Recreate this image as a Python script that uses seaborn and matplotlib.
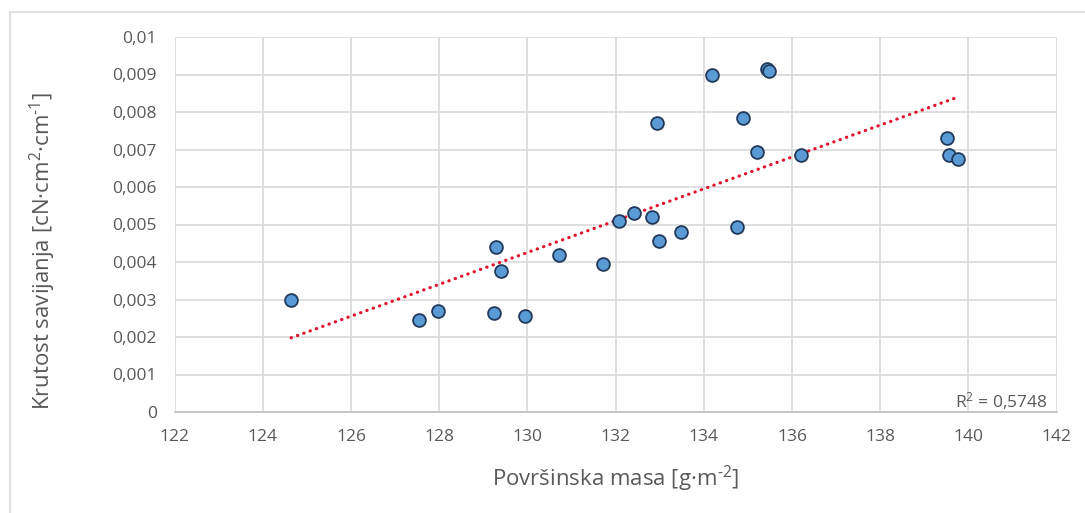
import numpy as np
import pandas as pd
import matplotlib
matplotlib.use("Agg")
import matplotlib.pyplot as plt
from matplotlib.lines import Line2D
import seaborn as sns

# data
povrsinska_masa = [124.64, 127.55, 127.97, 129.28, 129.40, 129.24, 129.95, 130.71,
                   131.72, 132.08, 132.41, 132.83, 132.93, 132.99, 133.47, 134.18,
                   134.75, 134.88, 135.20, 135.44, 135.48, 136.21, 139.51, 139.56,
                   139.76]
krutost = [0.00300, 0.00245, 0.00270, 0.00440, 0.00375, 0.00265, 0.00256, 0.00420,
           0.00395, 0.00510, 0.00531, 0.00519, 0.00770, 0.00456, 0.00480, 0.00899,
           0.00494, 0.00783, 0.00693, 0.00914, 0.00909, 0.00685, 0.00730, 0.00685,
           0.00674]
x_ticks = [122, 124, 126, 128, 130, 132, 134, 136, 138, 140, 142]
y_ticks = [0, 0.001, 0.002, 0.003, 0.004, 0.005, 0.006, 0.007, 0.008, 0.009, 0.01]
y_tick_labels = ["0", "0,001", "0,002", "0,003", "0,004", "0,005", "0,006",
                 "0,007", "0,008", "0,009", "0,01"]
r2_text = "R$^2$ = 0,5748"

df = pd.DataFrame({"masa": povrsinska_masa, "krutost": krutost})

sns.set_theme(style="white")
plt.rcParams['font.family'] = ['Open Sans', 'DejaVu Sans']
plt.rcParams['mathtext.fontset'] = 'custom'
plt.rcParams['mathtext.rm'] = 'Open Sans'
plt.rcParams['mathtext.it'] = 'Open Sans:italic'

gray_txt = "#595959"
fig = plt.figure(figsize=(10.85, 5.13), dpi=100)
ax = fig.add_axes([174.7 / 1085, 1 - 412 / 513, (1056.7 - 174.7) / 1085, 375 / 513])

# excel style linear trendline (dotted red)
sns.regplot(data=df, x="masa", y="krutost", scatter=False, ci=None, ax=ax,
            line_kws=dict(color="#E3122C", lw=2.3, linestyle=(0, (0.1, 2.0)),
                          dash_capstyle="round", zorder=3))
sns.scatterplot(data=df, x="masa", y="krutost", ax=ax, s=85, color="#5B9BD5",
                edgecolor="#22395A", linewidth=1.3, zorder=4)

ax.set_xlim(122, 142)
ax.set_ylim(0, 0.01)
ax.set_xticks(x_ticks)
ax.set_xticklabels([str(t) for t in x_ticks])
ax.set_yticks(y_ticks)
ax.set_yticklabels(y_tick_labels)
ax.grid(True, color="#D9D9D9", lw=1.2)
ax.set_axisbelow(True)
for s in ["top", "right", "left"]:
    ax.spines[s].set_visible(False)
ax.spines["bottom"].set_color("#BFBFBF")
ax.spines["bottom"].set_linewidth(1.2)
ax.tick_params(axis="both", length=0, labelsize=12.5, colors=gray_txt)
ax.tick_params(axis="y", pad=13)
ax.tick_params(axis="x", pad=12)

ax.set_xlabel(r"Površinska masa [g·m$^{\text{-}2}$]", fontsize=16, color=gray_txt, labelpad=14)
ax.set_ylabel(r"Krutost savijanja [cN·cm$^{2}$·cm$^{\text{-}1}$]", fontsize=16, color=gray_txt)
ax.yaxis.set_label_coords(-0.132, 0.43)

ax.text(0.99, 0.03, r2_text, transform=ax.transAxes, ha="right", va="center",
        fontsize=12.5, color=gray_txt)

# chart area border (top and left visible)
fig.add_artist(Line2D([10 / 1085, 10 / 1085], [0, 1 - 12 / 513],
                      transform=fig.transFigure, color="#D9D9D9", lw=1.2))
fig.add_artist(Line2D([10 / 1085, 1], [1 - 12 / 513, 1 - 12 / 513],
                      transform=fig.transFigure, color="#D9D9D9", lw=1.2))

fig.savefig("out.png", dpi=100)
